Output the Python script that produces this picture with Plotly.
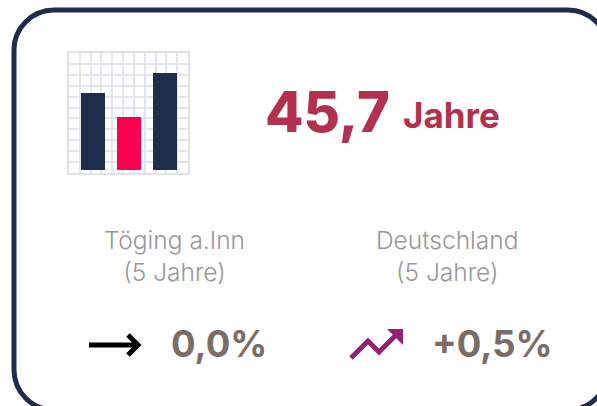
import plotly.graph_objects as go

W, H = 597, 406
icon_categories = [24, 60, 96]
icon_values = [77, 53, 97]
icon_colors = ["#1f2d4d", "#fa0050", "#1f2d4d"]
headline_value = "45,7"
headline_unit = "Jahre"
left_label = "Töging a.Inn<br>(5 Jahre)"
right_label = "Deutschland<br>(5 Jahre)"
left_change = "0,0%"
right_change = "+0,5%"

fig = go.Figure()
fig.add_trace(go.Bar(x=icon_categories, y=icon_values, base=0, width=24,
                     marker=dict(color=icon_colors, line_width=0),
                     xaxis="x2", yaxis="y2", showlegend=False))

font = "Inter, Lato, sans-serif"
def txt(x, y, t, size, color, weight=400, anchor="center"):
    fig.add_annotation(xref="x", yref="y", x=x, y=y, text=t, showarrow=False, xanchor=anchor,
                       yanchor="middle", font=dict(family=font, size=size, color=color, weight=weight),
                       align="center", bgcolor="rgba(0,0,0,0)", borderpad=0)

txt(327.5, 112, headline_value, 56, "#b3304e", 800)
txt(451.5, 115, headline_unit, 35, "#b3304e", 700)
txt(174, 256, left_label, 24.5, "#989898", 300)
txt(447, 256, right_label, 24.5, "#989898", 300)
txt(219, 344, left_change, 36.5, "#7b6d66", 700)
txt(492, 344, right_change, 36.5, "#7b6d66", 700)

grid = dict(showgrid=True, gridcolor="#e2e7ee", gridwidth=2, showticklabels=False, ticks="",
            zeroline=False, showline=True, mirror=True, linecolor="#dde3ea", linewidth=2)

fig.update_layout(
    width=W, height=H, margin=dict(l=0, r=0, t=0, b=0), autosize=False,
    paper_bgcolor="white", plot_bgcolor="rgba(0,0,0,0)", showlegend=False,
    xaxis=dict(range=[0, W], visible=False, domain=[0, 1], fixedrange=True),
    yaxis=dict(range=[H, 0], visible=False, domain=[0, 1], fixedrange=True),
    xaxis2=dict(domain=[69/W, 188/W], range=[0, 119], anchor="y2", tick0=0, dtick=10.82,
                layer="below traces", **grid),
    yaxis2=dict(domain=[1-173/H, 1-53/H], range=[-3, 117], anchor="x2", tick0=-3, dtick=10.91,
                **grid),
    shapes=[
        dict(type="path", xref="x", yref="y", line=dict(color="#1f2d4d", width=5), layer="below",
             path="M 14 50 C 14 28 32 10 54 10 L 568 10 C 590 10 608 28 608 50 L 608 370 C 608 392 590 410 568 410 L 54 410 C 32 410 14 392 14 370 Z"),
        dict(type="path", xref="x", yref="y", line=dict(color="black", width=5),
             path="M 89 345 L 138 345"),
        dict(type="path", xref="x", yref="y", line=dict(color="black", width=5),
             path="M 128 335 L 138 345 L 128 355"),
        dict(type="path", xref="x", yref="y", line=dict(color="#932372", width=5),
             path="M 351 358 L 368 341 L 379 352 L 399 332"),
        dict(type="path", xref="x", yref="y", line_width=0, fillcolor="#932372",
             path="M 387 329 L 403 329 L 403 345 Z"),
    ],
)
fig.write_html("out.html", config=dict(displayModeBar=False),
               post_script="document.body.style.margin='0';")
